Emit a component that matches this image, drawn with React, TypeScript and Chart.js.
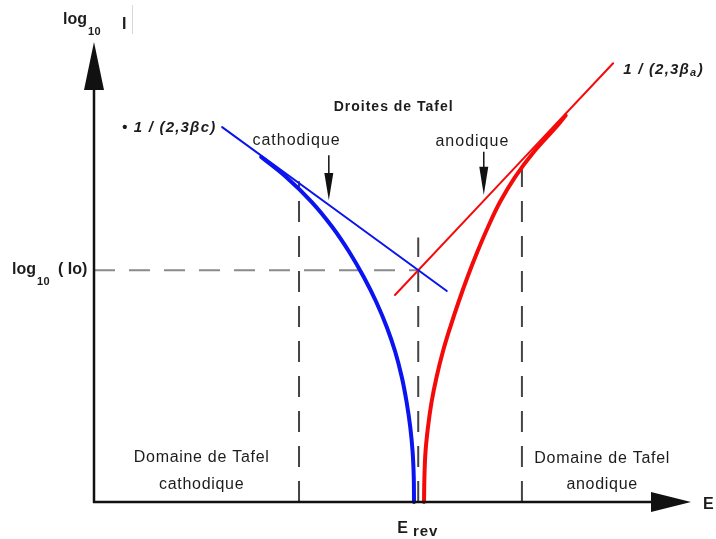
import React, { useEffect, useRef } from 'react';
import { Chart, registerables } from 'chart.js';

Chart.register(...registerables);

// Potential E (arbitrary units) and log10 |i| sampled along each polarisation curve
const cathodicE = [2.805, 3.223, 3.654, 3.998, 4.283, 4.526, 4.736, 4.912, 5.055, 5.164, 5.245, 5.306, 5.346, 5.365, 5.369];
const cathodicLogI = [6.0, 5.652, 5.217, 4.783, 4.348, 3.913, 3.478, 3.043, 2.609, 2.174, 1.739, 1.304, 0.87, 0.435, 0];
const anodicE = [5.537, 5.544, 5.562, 5.604, 5.664, 5.748, 5.852, 5.978, 6.117, 6.267, 6.431, 6.611, 6.812, 7.064, 7.378, 7.755, 7.914];
const anodicLogI = [0, 0.435, 0.87, 1.304, 1.739, 2.174, 2.609, 3.043, 3.478, 3.913, 4.348, 4.783, 5.217, 5.652, 6.087, 6.522, 6.722];

// Tafel straight lines (slopes -1/(2,3βc) and 1/(2,3βa))
const cathodicTafelE = [2.15, 5.92];
const cathodicTafelLogI = [6.52, 3.67];
const anodicTafelE = [5.05, 8.71];
const anodicTafelLogI = [3.6, 7.63];

// Guide positions
const eRev = 5.44;
const logI0 = 4.03;
const eRevGuideTop = 4.6;
const tafelLimitE = [3.44, 7.18];
const tafelLimitTop = [5.58, 5.87];

const FONT = '"Liberation Sans", Arial, sans-serif';
const INK = '#1c1c1c';

const pts = (xs: number[], ys: number[]) => xs.map((x, i) => ({ x, y: ys[i] }));

function text(
  ctx: CanvasRenderingContext2D,
  s: string,
  x: number,
  y: number,
  font: string,
  align: CanvasTextAlign = 'left',
  spacing = 0,
  baseline: CanvasTextBaseline = 'middle'
) {
  ctx.save();
  ctx.font = font;
  (ctx as any).letterSpacing = `${spacing}px`;
  ctx.fillStyle = INK;
  ctx.textBaseline = baseline;
  const w = ctx.measureText(s).width;
  let left = x;
  if (align === 'center') left = x - (w - spacing) / 2;
  if (align === 'right') left = x - w;
  ctx.textAlign = 'left';
  ctx.fillText(s, left, y);
  ctx.restore();
  return left + w;
}

function downArrow(ctx: CanvasRenderingContext2D, x: number, yTop: number, yHead: number, yTip: number) {
  ctx.save();
  ctx.strokeStyle = '#111';
  ctx.fillStyle = '#111';
  ctx.lineWidth = 1.5;
  ctx.beginPath();
  ctx.moveTo(x, yTop);
  ctx.lineTo(x, yHead + 2);
  ctx.stroke();
  ctx.beginPath();
  ctx.moveTo(x - 4.5, yHead);
  ctx.lineTo(x + 4.5, yHead);
  ctx.lineTo(x, yTip);
  ctx.closePath();
  ctx.fill();
  ctx.restore();
}

const tafelDecorations = {
  id: 'tafelDecorations',
  afterDraw(chart: any) {
    const { ctx, scales } = chart;
    const xs = scales.x;
    const ys = scales.y;
    const px = (v: number) => xs.getPixelForValue(v);
    const py = (v: number) => ys.getPixelForValue(v);
    const x0 = px(0);
    const y0 = py(0);
    const xEnd = px(10);
    const yEnd = py(8);

    // Axes with arrow heads
    ctx.save();
    ctx.strokeStyle = '#111';
    ctx.fillStyle = '#111';
    ctx.lineWidth = 2.5;
    ctx.beginPath();
    ctx.moveTo(x0, y0 + 1);
    ctx.lineTo(x0, yEnd + 46);
    ctx.moveTo(x0 - 1, y0);
    ctx.lineTo(xEnd - 38, y0);
    ctx.stroke();
    ctx.beginPath();
    ctx.moveTo(x0, yEnd);
    ctx.lineTo(x0 - 10, yEnd + 48);
    ctx.lineTo(x0 + 10, yEnd + 48);
    ctx.closePath();
    ctx.fill();
    ctx.beginPath();
    ctx.moveTo(xEnd + 1, y0);
    ctx.lineTo(xEnd - 39, y0 - 10);
    ctx.lineTo(xEnd - 39, y0 + 10);
    ctx.closePath();
    ctx.fill();
    ctx.restore();

    // Axis titles
    const bold16 = `bold 16px ${FONT}`;
    let r = text(ctx, 'log', x0 - 31, 24, bold16, 'left', 0, 'alphabetic');
    text(ctx, '10', r + 1, 35, `bold 11px ${FONT}`, 'left', 0.5, 'alphabetic');
    text(ctx, 'I', x0 + 28, 29, bold16, 'left', 0, 'alphabetic');
    ctx.save();
    ctx.strokeStyle = '#d8d8d8';
    ctx.lineWidth = 1;
    ctx.beginPath();
    ctx.moveTo(x0 + 38.5, 5);
    ctx.lineTo(x0 + 38.5, 34);
    ctx.stroke();
    ctx.restore();

    const yI0 = py(logI0);
    r = text(ctx, 'log', 12, yI0 + 4, bold16, 'left', 0, 'alphabetic');
    text(ctx, '10', r + 1, yI0 + 15, `bold 11px ${FONT}`, 'left', 0.5, 'alphabetic');
    text(ctx, '( Io)', 58, yI0 + 4, bold16, 'left', 0, 'alphabetic');

    text(ctx, 'E', xEnd + 13, y0 + 7, bold16, 'left', 0, 'alphabetic');

    const xr = px(eRev);
    r = text(ctx, 'E', xr - 21, y0 + 31, bold16, 'left', 0, 'alphabetic');
    text(ctx, 'rev', r + 5, y0 + 34, `bold 15px ${FONT}`, 'left', 1, 'alphabetic');

    // Tafel line labels
    text(ctx, 'Droites de Tafel', px(5.02), py(6.87), `bold 14px ${FONT}`, 'center', 1);
    text(ctx, 'cathodique', px(3.39), py(6.28), `16px ${FONT}`, 'center', 1);
    text(ctx, 'anodique', px(6.34), py(6.26), `16px ${FONT}`, 'center', 1);
    downArrow(ctx, px(3.94), py(6.03), py(5.72), py(5.25));
    downArrow(ctx, px(6.54), py(6.09), py(5.83), py(5.34));

    const slopeFont = `italic bold 15px ${FONT}`;
    text(ctx, '• 1 / (2,3βc)', px(0.47), py(6.5), slopeFont, 'left', 1.2);
    r = text(ctx, '1 / (2,3β', px(8.88), py(7.51), slopeFont, 'left', 1.2);
    r = text(ctx, 'a', r, py(7.51) + 3, `italic bold 11px ${FONT}`, 'left', 0.5);
    text(ctx, ')', r + 1, py(7.51), slopeFont, 'left', 1.2);

    // Tafel domains
    const domFont = `16px ${FONT}`;
    text(ctx, 'Domaine de Tafel', px(1.8), py(0.78), domFont, 'center', 0.7);
    text(ctx, 'cathodique', px(1.8), py(0.3), domFont, 'center', 0.7);
    text(ctx, 'Domaine de Tafel', px(8.52), py(0.75), domFont, 'center', 0.7);
    text(ctx, 'anodique', px(8.52), py(0.3), domFont, 'center', 0.7);
  },
};

export default function App() {
  const ref = useRef<HTMLCanvasElement>(null);

  useEffect(() => {
    document.body.style.margin = '0';
    document.body.style.overflow = 'hidden';
    const canvas = ref.current;
    if (!canvas) return;

    const guide = (data: { x: number; y: number }[], color: string) => ({
      data,
      showLine: true,
      pointRadius: 0,
      borderColor: color,
      borderWidth: 2,
      borderDash: [21, 14],
      fill: false,
      order: 2,
      clip: false as const,
    });
    const curve = (data: { x: number; y: number }[], color: string, width: number) => ({
      data,
      showLine: true,
      pointRadius: 0,
      borderColor: color,
      borderWidth: width,
      borderCapStyle: 'round' as const,
      borderJoinStyle: 'round' as const,
      tension: 0.4,
      fill: false,
      order: 1,
      clip: false as const,
    });

    const chart = new Chart(canvas, {
      type: 'scatter',
      data: {
        datasets: [
          curve(pts(cathodicE, cathodicLogI), '#0a14f0', 4),
          curve(pts(anodicE, anodicLogI), '#f50a0a', 4),
          curve(pts(cathodicTafelE, cathodicTafelLogI), '#0a14f0', 2),
          curve(pts(anodicTafelE, anodicTafelLogI), '#f50a0a', 2),
          guide([{ x: 0, y: logI0 }, { x: eRev, y: logI0 }], '#8a8a8a'),
          guide([{ x: eRev, y: 0 }, { x: eRev, y: eRevGuideTop }], '#444'),
          guide([{ x: tafelLimitE[0], y: 0 }, { x: tafelLimitE[0], y: tafelLimitTop[0] }], '#444'),
          guide([{ x: tafelLimitE[1], y: 0 }, { x: tafelLimitE[1], y: tafelLimitTop[1] }], '#444'),
        ] as any,
      },
      options: {
        responsive: false,
        animation: false,
        devicePixelRatio: 1,
        events: [],
        layout: { padding: { left: 94, right: 26, top: 42, bottom: 37 } },
        scales: {
          x: { type: 'linear', min: 0, max: 10, display: false },
          y: { type: 'linear', min: 0, max: 8, display: false },
        },
        plugins: { legend: { display: false }, tooltip: { enabled: false } },
      },
      plugins: [tafelDecorations],
    });
    return () => chart.destroy();
  }, []);

  return (
    <div style={{ width: 716, height: 539, background: '#fff' }}>
      <canvas ref={ref} width={716} height={539} style={{ display: 'block' }} />
    </div>
  );
}
